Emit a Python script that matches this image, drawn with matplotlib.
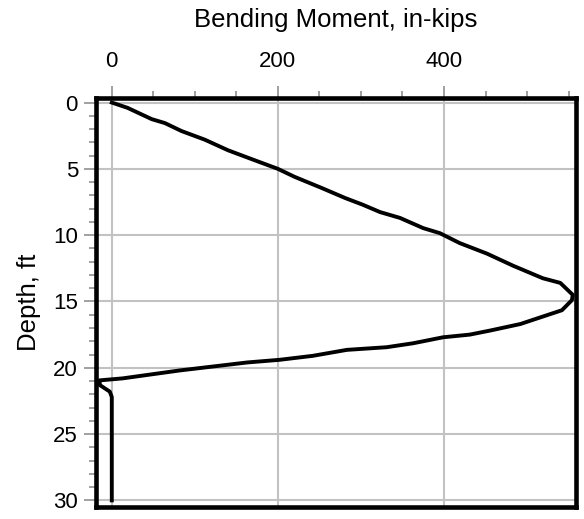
import numpy as np
import matplotlib.pyplot as plt
from matplotlib.ticker import MultipleLocator

plt.rcParams['font.family'] = ['Liberation Sans', 'DejaVu Sans']

# Bending moment (in-kips) vs depth (ft)
moment = [0, 19, 48, 64, 84, 112, 140, 172, 200, 220, 253, 281, 302, 323, 347,
          375, 395, 419, 452, 483, 519, 540, 555, 554, 542, 516, 492, 455, 431,
          399, 363, 331, 283, 242, 202, 163, 82, 13, -14.5, -14.5, -2.4, 0, 0]
depth = [0, 0.4, 1.25, 1.55, 2.15, 2.8, 3.6, 4.35, 5.0, 5.6, 6.45, 7.2, 7.7,
         8.26, 8.7, 9.47, 9.85, 10.6, 11.4, 12.3, 13.25, 13.6, 14.5, 14.9, 15.66,
         16.2, 16.7, 17.2, 17.5, 17.7, 18.15, 18.45, 18.65, 19.1, 19.4, 19.6,
         20.2, 20.8, 20.95, 21.3, 21.8, 22.2, 30.0]

fig = plt.figure(figsize=(5.84, 5.19), dpi=100)
ax = fig.add_axes([0.1644, 0.0231, 0.822, 0.788])

ax.plot(moment, depth, color='black', lw=2.8, solid_joinstyle='round')

ax.set_xlim(-19, 559)
ax.set_ylim(30.5, -0.34)
ax.xaxis.set_major_locator(MultipleLocator(200))
ax.xaxis.set_minor_locator(MultipleLocator(50))
ax.yaxis.set_major_locator(MultipleLocator(5))
ax.yaxis.set_minor_locator(MultipleLocator(1))
ax.xaxis.tick_top()
ax.xaxis.set_label_position('top')

ax.grid(True, which='major', color='#c2c2c2', lw=1.5)
ax.set_axisbelow(True)
ax.tick_params(which='major', direction='out', length=9, width=1.3, color='#999999',
               labelsize=16)
ax.tick_params(axis='x', which='major', pad=10)
ax.tick_params(axis='y', which='major', pad=4)
ax.tick_params(which='minor', direction='out', length=5, width=1.3, color='#999999')
for s in ax.spines.values():
    s.set_linewidth(3.3)
    s.set_color('black')

ax.set_xlabel('Bending Moment, in-kips', fontsize=18.5, labelpad=17)
ax.set_ylabel('Depth, ft', fontsize=18.5, labelpad=9)

fig.savefig('out.png', dpi=100)
